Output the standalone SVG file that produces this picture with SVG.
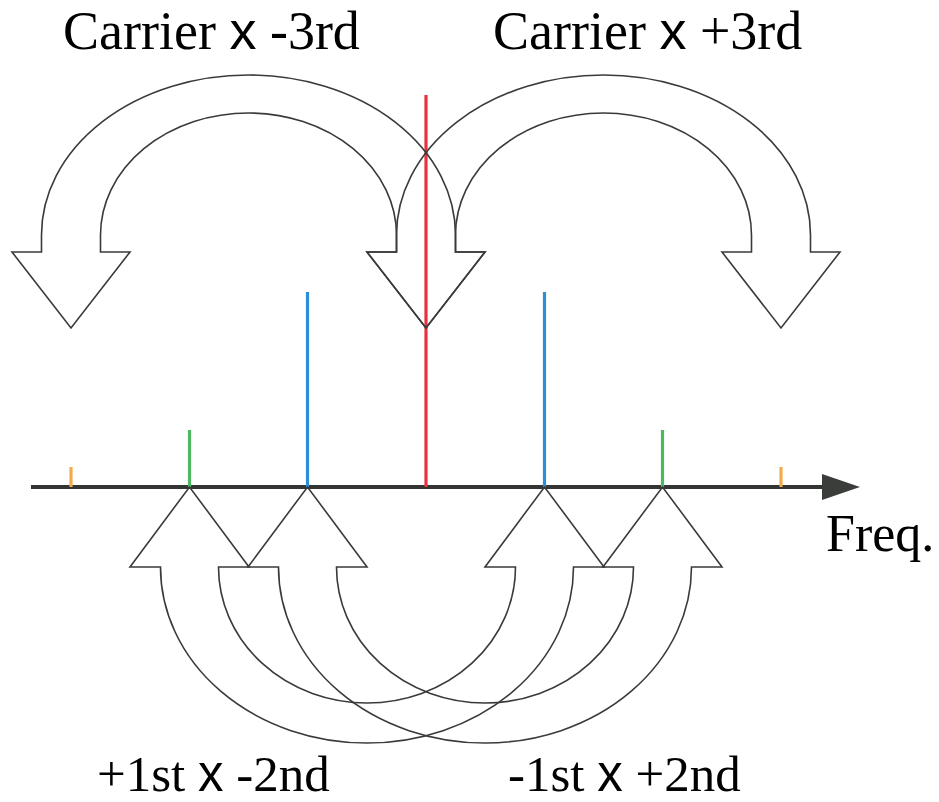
<svg xmlns="http://www.w3.org/2000/svg" width="939" height="802" viewBox="0 0 939 802">
<style>
.lbl{font-family:"Liberation Serif","Times New Roman",serif;fill:#000}
.sx{font-family:"Liberation Sans",Arial,sans-serif}
.arr{fill:none;stroke:#3a3a3a;stroke-width:1.6;stroke-linejoin:miter}
.sl{stroke-width:3.2;stroke-linecap:butt}
</style>
<rect width="939" height="802" fill="#ffffff"/>
<g id="axis">
<line x1="31" y1="487" x2="826" y2="487" stroke="#333533" stroke-width="4"/>
<polygon points="822,474 860,487 822,500" fill="#3a3d3a"/>
</g>
<g id="line-orange-left"><line class="sl" x1="71" y1="467" x2="71" y2="487" stroke="#f4a94a"/></g>
<g id="line-green-left"><line class="sl" x1="189.5" y1="430" x2="189.5" y2="487" stroke="#4cb860"/></g>
<g id="line-blue-left"><line class="sl" x1="307.5" y1="292" x2="307.5" y2="487" stroke="#2b8fd8"/></g>
<g id="line-carrier"><line class="sl" x1="426" y1="95" x2="426" y2="487" stroke="#e8333f"/></g>
<g id="line-blue-right"><line class="sl" x1="544.5" y1="292" x2="544.5" y2="487" stroke="#2b8fd8"/></g>
<g id="line-green-right"><line class="sl" x1="662.5" y1="430" x2="662.5" y2="487" stroke="#4cb860"/></g>
<g id="line-orange-right"><line class="sl" x1="781" y1="467" x2="781" y2="487" stroke="#f4a94a"/></g>
<g id="connectors">
<path class="arr" d="M41.5,252 L12,252 L71,328 L130,252 L100.5,252 L100.5,235 A148 122 0 0 1 396.5,235 L396.5,252 L367,252 L426,328 L485,252 L455.5,252 L455.5,235 A207 160 0 0 0 41.5,235 Z"/>
<path class="arr" d="M396.5,252 L367,252 L426,328 L485,252 L455.5,252 L455.5,235 A148 122 0 0 1 751.5,235 L751.5,252 L722,252 L781,328 L840,252 L810.5,252 L810.5,235 A207 160 0 0 0 396.5,235 Z"/>
<path class="arr" d="M160.5,567 L130,567 L189.5,487 L249,567 L218.5,567 A148.5 136 0 0 0 515.5,567 L485,567 L544.5,487 L604,567 L573.5,567 A206.5 176 0 0 1 160.5,567 Z"/>
<path class="arr" d="M278.5,567 L248,567 L307.5,487 L367,567 L336.5,567 A148.5 136 0 0 0 633.5,567 L603,567 L662.5,487 L722,567 L691.5,567 A206.5 176 0 0 1 278.5,567 Z"/>
</g>
<g id="labels">
<text class="lbl" x="63" y="49" font-size="54">Carrier <tspan class="sx">x</tspan> -3rd</text>
<text class="lbl" x="493" y="49" font-size="54">Carrier <tspan class="sx">x</tspan> +3rd</text>
<text class="lbl" x="97" y="791" font-size="51">+1st <tspan class="sx">x</tspan> -2nd</text>
<text class="lbl" x="508" y="791" font-size="51">-1st <tspan class="sx">x</tspan> +2nd</text>
<text class="lbl" x="826" y="551" font-size="52">Freq.</text>
</g>
</svg>
